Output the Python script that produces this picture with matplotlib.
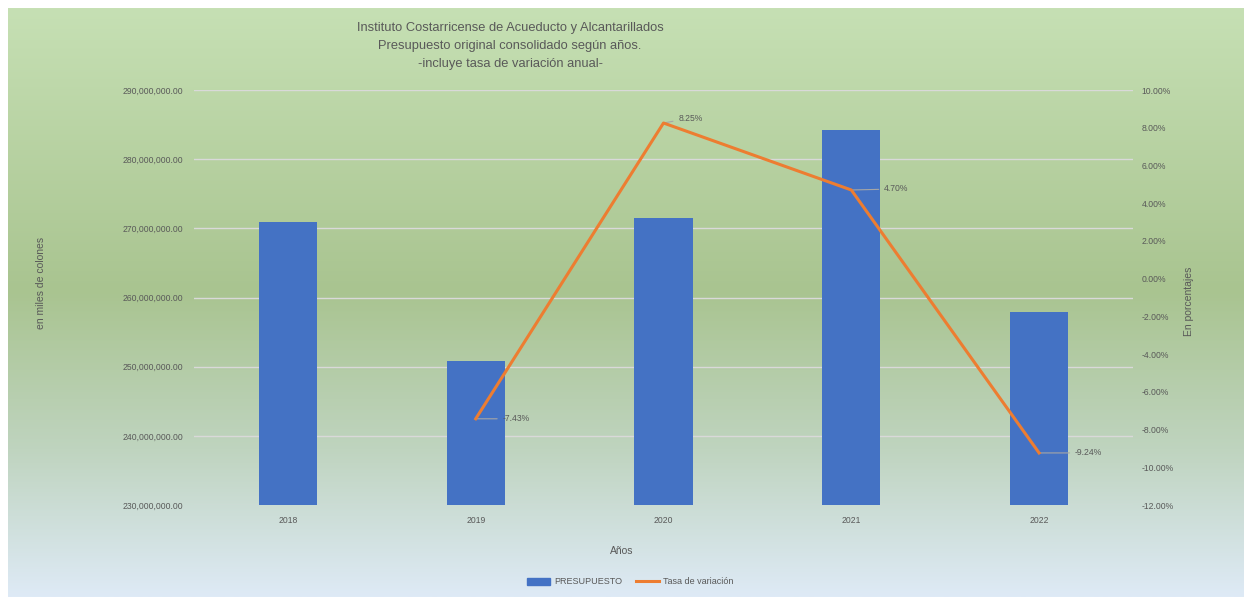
import numpy as np
import matplotlib
matplotlib.use('Agg')
import matplotlib.pyplot as plt
from matplotlib.colors import LinearSegmentedColormap
from matplotlib.patches import Patch
from matplotlib.lines import Line2D
from matplotlib.ticker import FuncFormatter, MultipleLocator

plt.rcParams['font.family'] = ['Liberation Sans', 'DejaVu Sans']

# datos
anios = ['2018', '2019', '2020', '2021', '2022']
presupuesto = [270_900_000, 250_800_000, 271_500_000, 284_200_000, 257_900_000]
tasa = [np.nan, -7.43, 8.25, 4.70, -9.24]
etiquetas = ['', '-7.43%', '8.25%', '4.70%', '-9.24%']

titulo = ('Instituto Costarricense de Acueducto y Alcantarillados\n'
          'Presupuesto original consolidado según años.\n'
          '-incluye tasa de variación anual-')

gris = '#595959'
azul = '#4472c4'
naranja = '#ed7d31'

fig = plt.figure(figsize=(12.44, 5.97), dpi=100)
fig.patch.set_facecolor('white')

# fondo degradado del area del grafico
bg = fig.add_axes([8 / 1244, 0, 1 - 8 / 1244, 1 - 8 / 597], zorder=-10)
cmap = LinearSegmentedColormap.from_list('fondo', [(0, '#c6e0b4'), (0.48, '#a9c490'), (0.75, '#bfd4bf'), (1, '#deeaf6')])
bg.imshow(np.linspace(0, 1, 256).reshape(-1, 1), aspect='auto', cmap=cmap, extent=[0, 1, 0, 1])
bg.set_axis_off()

ax = fig.add_axes([194 / 1244, 1 - 505 / 597, (1133 - 194) / 1244, (505 - 90) / 597])
ax.patch.set_alpha(0)
x = np.arange(len(anios))
ax.bar(x, presupuesto, width=0.31, color=azul, zorder=3)
ax.set_ylim(230_000_000, 290_000_000)
ax.set_xlim(-0.5, len(anios) - 0.5)
ax.yaxis.set_major_locator(MultipleLocator(10_000_000))
ax.yaxis.set_major_formatter(FuncFormatter(lambda v, p: f'{v:,.2f}'))
ax.grid(axis='y', color='#d9d9d9', linewidth=1, zorder=0)
ax.set_xticks(x)
ax.set_xticklabels(anios)
for s in ax.spines.values():
    s.set_visible(False)
ax.tick_params(length=0, labelsize=6.2, labelcolor=gris, pad=8)
ax.set_xlabel('Años', fontsize=7.5, color=gris)
ax.xaxis.set_label_coords(0.455, -0.10)
ax.set_ylabel('en miles de colones', fontsize=7.5, color=gris)
ax.yaxis.set_label_coords(-0.158, 0.535)

ax2 = ax.twinx()
ax2.plot(x, tasa, color=naranja, linewidth=2.2, zorder=4)
ax2.set_ylim(-12, 10)
ax2.yaxis.set_major_locator(MultipleLocator(2))
ax2.yaxis.set_major_formatter(FuncFormatter(lambda v, p: f'{v:.2f}%'))
for s in ax2.spines.values():
    s.set_visible(False)
ax2.tick_params(length=0, labelsize=6.2, labelcolor=gris, pad=6)
ax2.set_ylabel('En porcentajes', fontsize=7.5, color=gris)
ax2.yaxis.set_label_coords(1.054, 0.49)

# etiquetas de datos con linea guia
desplaz = {1: (27, 0), 2: (15, 5), 3: (33, 1), 4: (36, 0)}
for i, (dx, dy) in desplaz.items():
    ax2.annotate(etiquetas[i], xy=(x[i], tasa[i]), xytext=(dx, dy), textcoords='offset pixels',
                 fontsize=6.2, color=gris, va='center', ha='left',
                 arrowprops=dict(arrowstyle='-', color='#a6a6a6', lw=0.8, shrinkA=2, shrinkB=0))

fig.text(510 / 1244, 1 - 46 / 597, titulo, ha='center', va='center', fontsize=9.3,
         color=gris, linespacing=1.65)

handles = [Patch(color=azul), Line2D([0], [0], color=naranja, lw=2.2)]
fig.legend(handles, ['PRESUPUESTO', 'Tasa de variación'], loc='center', ncol=2,
           bbox_to_anchor=(630 / 1244, 1 - 582 / 597), frameon=False, fontsize=6.5,
           labelcolor=gris, handlelength=2.6, handleheight=0.7, columnspacing=1.5, handletextpad=0.4)

fig.savefig('out.png', dpi=100)
